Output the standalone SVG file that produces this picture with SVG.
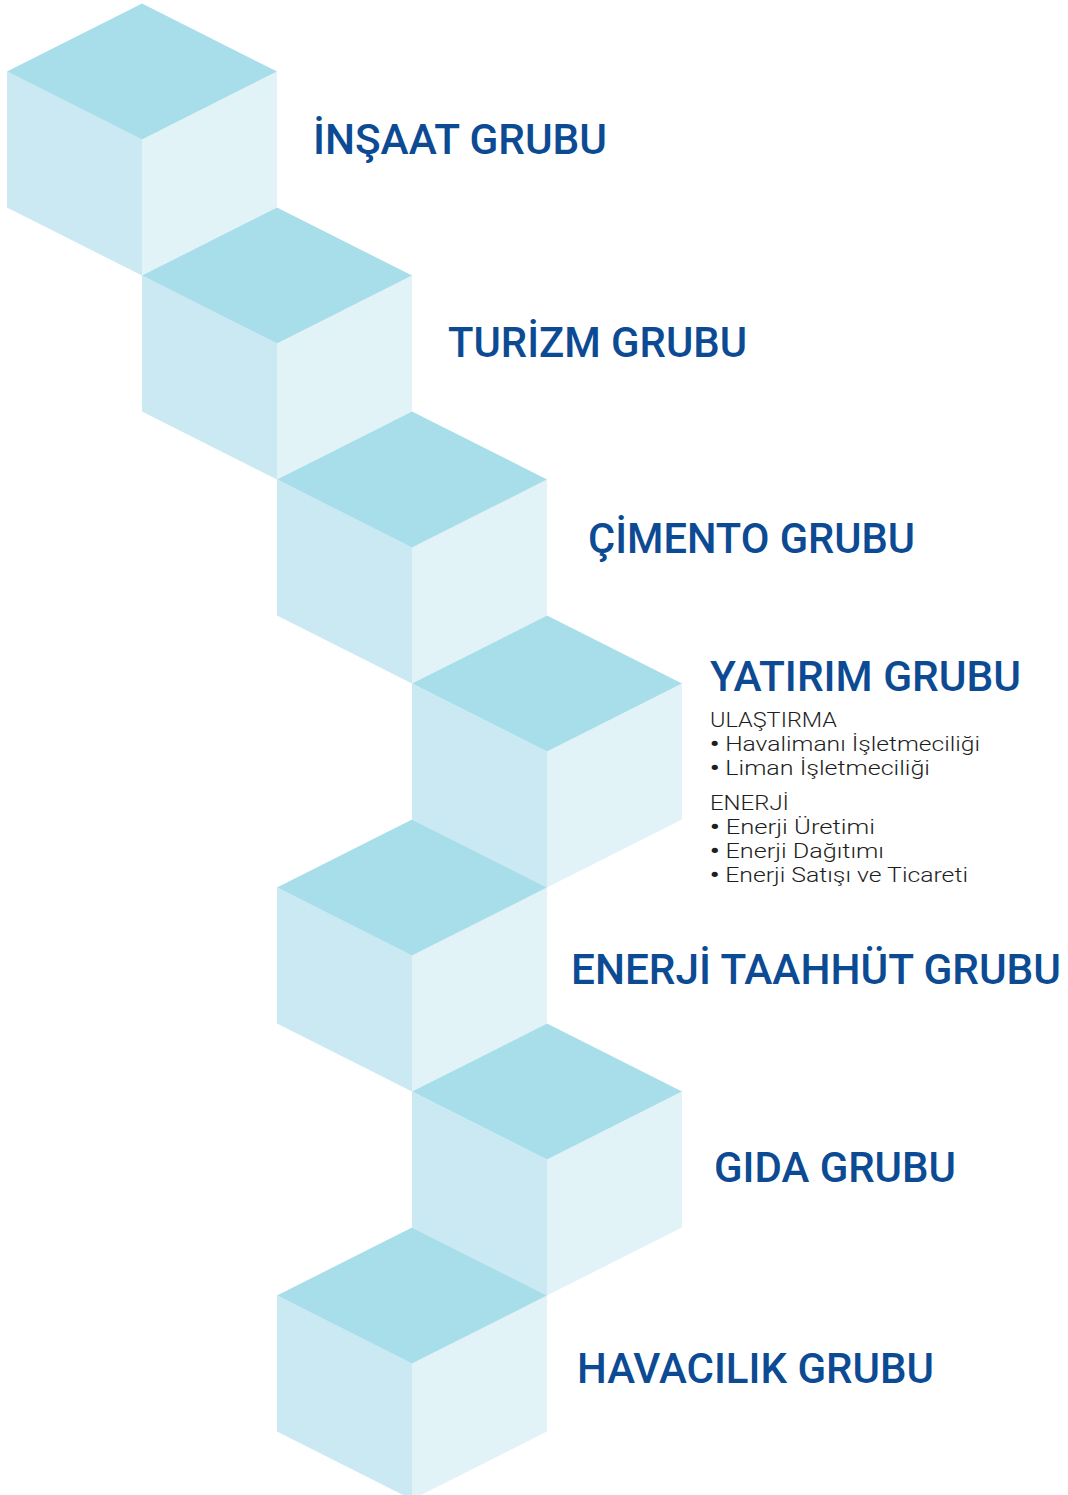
<svg xmlns="http://www.w3.org/2000/svg" xmlns:xlink="http://www.w3.org/1999/xlink" width="1068" height="1495" viewBox="0 0 1068 1495">
  <style>
    .t { fill: #a8deea; }
    .l { fill: #cae9f2; }
    .r { fill: #e2f3f8; }
    .title { font-family: "Roboto", "Liberation Sans", sans-serif; font-weight: 500; font-size: 42px; fill: #0c4b93; }
    .sub { font-family: "Roboto", "Liberation Sans", sans-serif; font-weight: 300; font-size: 21px; fill: #1e1e1e; }
    .b { font-weight: 900; }
  </style>
  <defs>
    <g id="cube">
      <polygon class="l" points="-135,68 0,136 0,272 -135,204"/>
      <polygon class="r" points="0,136 135,68 135,204 0,272"/>
      <polygon class="t" points="0,0 135,68 0,136 -135,68"/>
    </g>
  </defs>
  <rect width="1068" height="1495" fill="#ffffff"/>

  <g id="cube-insaat"><use xlink:href="#cube" href="#cube" transform="translate(142,3.5)"/></g>
  <g id="cube-turizm"><use xlink:href="#cube" href="#cube" transform="translate(277,207.5)"/></g>
  <g id="cube-cimento"><use xlink:href="#cube" href="#cube" transform="translate(412,411.5)"/></g>
  <g id="cube-yatirim"><use xlink:href="#cube" href="#cube" transform="translate(547,615.5)"/></g>
  <g id="cube-enerji-taahhut"><use xlink:href="#cube" href="#cube" transform="translate(412,819.5)"/></g>
  <g id="cube-gida"><use xlink:href="#cube" href="#cube" transform="translate(547,1023.5)"/></g>
  <g id="cube-havacilik"><use xlink:href="#cube" href="#cube" transform="translate(412,1227.5)"/></g>

  <g id="label-insaat"><text class="title" x="313" y="154" textLength="294" lengthAdjust="spacingAndGlyphs">İNŞAAT GRUBU</text></g>
  <g id="label-turizm"><text class="title" x="448" y="357" textLength="299" lengthAdjust="spacingAndGlyphs">TURİZM GRUBU</text></g>
  <g id="label-cimento"><text class="title" x="588" y="553" textLength="327" lengthAdjust="spacingAndGlyphs">ÇİMENTO GRUBU</text></g>
  <g id="label-yatirim">
    <text class="title" x="710" y="691" textLength="311" lengthAdjust="spacingAndGlyphs">YATIRIM GRUBU</text>
    <text class="sub" x="710" y="727" textLength="127" lengthAdjust="spacingAndGlyphs">ULAŞTIRMA</text>
    <text class="sub" x="710" y="751" textLength="270" lengthAdjust="spacingAndGlyphs"><tspan class="b">•</tspan> Havalimanı İşletmeciliği</text>
    <text class="sub" x="710" y="775" textLength="220" lengthAdjust="spacingAndGlyphs"><tspan class="b">•</tspan> Liman İşletmeciliği</text>
    <text class="sub" x="710" y="810" textLength="79" lengthAdjust="spacingAndGlyphs">ENERJİ</text>
    <text class="sub" x="710" y="834" textLength="165" lengthAdjust="spacingAndGlyphs"><tspan class="b">•</tspan> Enerji Üretimi</text>
    <text class="sub" x="710" y="858" textLength="174" lengthAdjust="spacingAndGlyphs"><tspan class="b">•</tspan> Enerji Dağıtımı</text>
    <text class="sub" x="710" y="882" textLength="258" lengthAdjust="spacingAndGlyphs"><tspan class="b">•</tspan> Enerji Satışı ve Ticareti</text>
  </g>
  <g id="label-enerji-taahhut"><text class="title" x="571" y="984" textLength="490" lengthAdjust="spacingAndGlyphs">ENERJİ TAAHHÜT GRUBU</text></g>
  <g id="label-gida"><text class="title" x="714" y="1182" textLength="242" lengthAdjust="spacingAndGlyphs">GIDA GRUBU</text></g>
  <g id="label-havacilik"><text class="title" x="577" y="1383" textLength="357" lengthAdjust="spacingAndGlyphs">HAVACILIK GRUBU</text></g>
</svg>
